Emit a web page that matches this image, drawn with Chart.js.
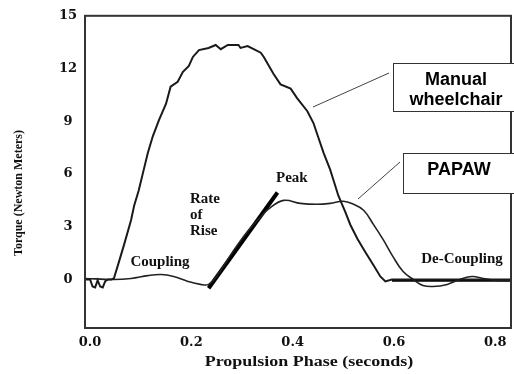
<!DOCTYPE html>
<html>
<head>
  <title>Torque - Propulsion Phase</title>
  <style>
    body {
      margin: 0;
      background: #fff;
    }
    #wrap {
      width: 514px;
      height: 374px;
    }
  </style>
</head>
<body>
  <div id="wrap"><canvas id="torqueChart" width="514" height="374"></canvas></div>

  <script src="https://cdn.jsdelivr.net/npm/chart.js"></script>
  <script>
    // ticks
    const xTicks = [0, 0.2, 0.4, 0.6, 0.8];
    const yTicks = [0, 3, 6, 9, 12, 15];

    // Manual wheelchair torque
    const manualX = [-0.01, 0.0, 0.005, 0.01, 0.015, 0.02, 0.025, 0.03, 0.036, 0.042, 0.047, 0.057, 0.067, 0.081, 0.087, 0.096, 0.106, 0.114, 0.124, 0.136, 0.15, 0.159, 0.173, 0.183, 0.195, 0.203, 0.215, 0.234, 0.248, 0.258, 0.272, 0.293, 0.297, 0.311, 0.323, 0.337, 0.343, 0.362, 0.376, 0.396, 0.409, 0.429, 0.441, 0.451, 0.461, 0.474, 0.48, 0.49, 0.504, 0.514, 0.528, 0.543, 0.559, 0.573, 0.583, 0.596, 0.831];
    const manualY = [0, 0, -0.4, -0.45, -0.05, -0.4, -0.45, -0.1, 0, 0, 0.06, 1.0, 1.97, 3.38, 4.2, 5.06, 6.25, 7.2, 8.16, 9.06, 10.0, 10.97, 11.25, 11.8, 12.15, 12.66, 13.05, 13.17, 13.34, 13.1, 13.34, 13.34, 13.17, 13.28, 13.1, 12.9, 12.66, 11.7, 11.1, 10.86, 10.3, 9.57, 8.9, 8.05, 7.2, 6.25, 5.7, 4.78, 3.83, 3.1, 2.3, 1.58, 0.84, 0.17, -0.11, 0, 0];

    // PAPAW torque
    const papawX = [-0.01, 0.047, 0.081, 0.114, 0.14, 0.165, 0.193, 0.218, 0.234, 0.25, 0.28, 0.31, 0.335, 0.352, 0.382, 0.415, 0.448, 0.474, 0.5, 0.52, 0.54, 0.559, 0.579, 0.598, 0.618, 0.638, 0.657, 0.677, 0.705, 0.73, 0.754, 0.776, 0.803, 0.831];
    const papawY = [0.06, 0, 0.06, 0.22, 0.28, 0.17, -0.11, -0.28, -0.28, 0.2, 1.5, 2.7, 3.5, 4.0, 4.5, 4.33, 4.28, 4.33, 4.45, 4.28, 3.94, 3.15, 2.25, 1.3, 0.45, 0, -0.34, -0.4, -0.28, 0, 0.17, 0.06, -0.06, -0.06];

    // rate of rise line and de-coupling baseline
    const rateX = [0.234, 0.37];
    const rateY = [-0.5, 4.95];
    const decoupleX = [0.596, 0.831];
    const decoupleY = [-0.06, -0.06];

    function toPoints(xs, ys) {
      return xs.map((x, i) => ({ x: x, y: ys[i] }));
    }

    const serif = '"Liberation Serif", "Times New Roman", serif';
    const tickSerif = '"DejaVu Serif", serif';

    // text notes and boxes (drawn on top)
    const notesPlugin = {
      id: 'notes',
      afterDatasetsDraw(chart) {
        const ctx = chart.ctx;
        const a = chart.chartArea;
        ctx.save();

        // frame
        ctx.strokeStyle = '#333';
        ctx.lineWidth = 2;
        ctx.strokeRect(a.left, a.top, a.right - a.left, a.bottom - a.top);

        // serif notes
        ctx.fillStyle = '#111';
        ctx.font = 'bold 15px ' + serif;
        ctx.textBaseline = 'middle';
        ctx.textAlign = 'left';
        ctx.fillText('Rate', 190, 199);
        ctx.fillText('of', 190, 215);
        ctx.fillText('Rise', 190, 231);
        ctx.fillText('Peak', 276, 178);
        ctx.textAlign = 'center';
        ctx.fillText('Coupling', 160, 262);
        ctx.fillText('De-Coupling', 462, 259);

        // leader lines
        ctx.strokeStyle = '#444';
        ctx.lineWidth = 1;
        ctx.beginPath();
        ctx.moveTo(389, 73);
        ctx.lineTo(313, 107);
        ctx.moveTo(400, 162);
        ctx.lineTo(358, 199);
        ctx.stroke();

        // boxes
        ctx.fillStyle = '#fff';
        ctx.fillRect(393, 63, 121, 48);
        ctx.fillRect(403, 153, 111, 40);
        ctx.strokeStyle = '#333';
        ctx.strokeRect(393.5, 63.5, 121, 48);
        ctx.strokeRect(403.5, 153.5, 111, 40);
        ctx.fillStyle = '#000';
        ctx.font = 'bold 18px "Liberation Sans", Arial, sans-serif';
        ctx.fillText('Manual', 456, 80);
        ctx.fillText('wheelchair', 456, 100);
        ctx.fillText('PAPAW', 459, 170);

        // axis titles
        ctx.fillStyle = '#111';
        ctx.save();
        ctx.translate(309, 362);
        ctx.scale(1.2, 1);
        ctx.font = 'bold 15px ' + serif;
        ctx.fillText('Propulsion Phase (seconds)', 0, 0);
        ctx.restore();
        ctx.translate(19, 193);
        ctx.rotate(-Math.PI / 2);
        ctx.font = 'bold 12px ' + serif;
        ctx.fillText('Torque (Newton Meters)', 0, 0);
        ctx.restore();
      }
    };

    const ctx = document.getElementById('torqueChart').getContext('2d');
    new Chart(ctx, {
      type: 'scatter',
      data: {
        datasets: [
          {
            label: 'Manual wheelchair',
            data: toPoints(manualX, manualY),
            showLine: true,
            borderColor: '#1a1a1a',
            borderWidth: 2,
            pointRadius: 0,
            tension: 0
          },
          {
            label: 'PAPAW',
            data: toPoints(papawX, papawY),
            showLine: true,
            borderColor: '#222',
            borderWidth: 1.6,
            pointRadius: 0,
            tension: 0.4
          },
          {
            label: 'Rate of Rise',
            data: toPoints(rateX, rateY),
            showLine: true,
            borderColor: '#000',
            borderWidth: 4,
            pointRadius: 0
          },
          {
            label: 'De-Coupling',
            data: toPoints(decoupleX, decoupleY),
            showLine: true,
            borderColor: '#000',
            borderWidth: 2.5,
            pointRadius: 0
          }
        ]
      },
      options: {
        responsive: false,
        animation: false,
        events: [],
        layout: { padding: { top: 12, right: 3, left: 0, bottom: 0 } },
        plugins: {
          legend: { display: false },
          tooltip: { enabled: false }
        },
        scales: {
          x: {
            type: 'linear',
            min: -0.01,
            max: 0.831,
            grid: { display: false, drawTicks: false },
            border: { display: false },
            afterBuildTicks: (s) => { s.ticks = xTicks.map(v => ({ value: v })); },
            afterFit: (s) => { s.height = 46; },
            ticks: {
              padding: 7,
              maxRotation: 0,
              color: '#111',
              font: { family: tickSerif, size: 13, weight: 'bold' },
              callback: (v) => Number(v).toFixed(1)
            }
          },
          y: {
            min: -2.76,
            max: 15,
            grid: { display: false, drawTicks: false },
            border: { display: false },
            afterBuildTicks: (s) => { s.ticks = yTicks.map(v => ({ value: v })); },
            afterFit: (s) => { s.width = 85; },
            ticks: {
              padding: 8,
              crossAlign: 'center',
              color: '#111',
              font: { family: tickSerif, size: 13, weight: 'bold' }
            }
          }
        }
      },
      plugins: [notesPlugin]
    });
  </script>
</body>
</html>
